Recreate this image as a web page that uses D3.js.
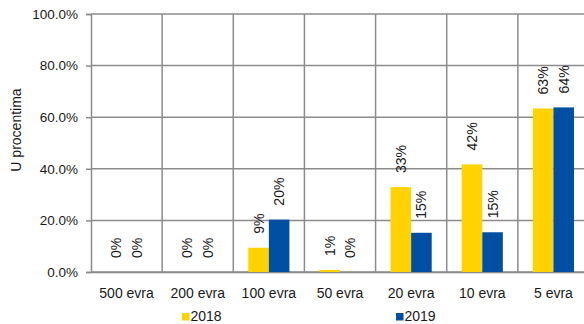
<!DOCTYPE html>
<html>
<head>
<meta charset="utf-8">
<script src="https://cdn.jsdelivr.net/npm/d3@7"></script>
<style>
  html, body { margin: 0; padding: 0; background: #fff; }
  svg { display: block; font-family: "Liberation Sans", Arial, sans-serif; }
</style>
</head>
<body>
<svg id="chart" width="584" height="324"></svg>
<script>
const categories = ["500 evra", "200 evra", "100 evra", "50 evra", "20 evra", "10 evra", "5 evra"];
const seriesNames = ["2018", "2019"];
const values2018 = [0.0, 0.0, 9.4, 0.8, 32.9, 41.7, 63.4];
const values2019 = [0.0, 0.0, 20.3, 0.0, 15.2, 15.4, 63.8];
const yTicks = [0, 20, 40, 60, 80, 100];
const colors = ["#FFD200", "#004FA2"];

const svg = d3.select("#chart");
const margin = { left: 91, top: 14, bottom: 52 };
const plotW = 498; // extends past right edge as in reference
const plotH = 324 - margin.top - margin.bottom;

const x = d3.scaleBand().domain(categories).range([margin.left, margin.left + plotW]).padding(0);
const y = d3.scaleLinear().domain([0, 100]).range([margin.top + plotH, margin.top]);
const xs = d3.scaleBand().domain(seriesNames).range([0, x.bandwidth()]).paddingInner(0).paddingOuter(0.73);

const gridColor = "#8c8c8c";

// horizontal grid
svg.append("g").selectAll("line").data(yTicks).join("line")
  .attr("x1", margin.left).attr("x2", margin.left + plotW)
  .attr("y1", d => y(d)).attr("y2", d => y(d))
  .attr("stroke", gridColor).attr("stroke-width", 1.5);

// vertical grid (category separators)
svg.append("g").selectAll("line").data(categories.slice(1)).join("line")
  .attr("x1", d => x(d)).attr("x2", d => x(d))
  .attr("y1", y(100)).attr("y2", y(0))
  .attr("stroke", gridColor).attr("stroke-width", 1.5);

// y axis
const yAxis = d3.axisLeft(y).tickValues(yTicks).tickSize(5).tickPadding(8)
  .tickFormat(d => d3.format(".1f")(d) + "%");
const gy = svg.append("g").attr("transform", `translate(${margin.left},0)`).call(yAxis);
gy.select(".domain").attr("stroke", gridColor).attr("stroke-width", 1.5);
gy.selectAll(".tick line").attr("stroke", gridColor).attr("stroke-width", 1.5);
gy.selectAll(".tick text").attr("font-size", "13.5px").attr("fill", "#1a1a1a")
  .attr("font-family", "Liberation Sans, Arial, sans-serif");

// x axis
const xAxis = d3.axisBottom(x).tickSize(0).tickPadding(16);
const gx = svg.append("g").attr("transform", `translate(0,${y(0)})`).call(xAxis);
gx.select(".domain").attr("stroke", gridColor).attr("stroke-width", 1.5);
gx.selectAll(".tick text").attr("font-size", "14px").attr("fill", "#1a1a1a")
  .attr("font-family", "Liberation Sans, Arial, sans-serif");

// bars
const data = [];
categories.forEach((c, i) => {
  data.push({ cat: c, s: seriesNames[0], v: values2018[i], color: colors[0] });
  data.push({ cat: c, s: seriesNames[1], v: values2019[i], color: colors[1] });
});

svg.append("g").selectAll("rect").data(data).join("rect")
  .attr("x", d => x(d.cat) + xs(d.s))
  .attr("width", xs.bandwidth())
  .attr("y", d => y(d.v))
  .attr("height", d => y(0) - y(d.v))
  .attr("fill", d => d.color);

// value labels (rotated)
svg.append("g").selectAll("text").data(data).join("text")
  .attr("transform", d => {
    const cx = x(d.cat) + xs(d.s) + xs.bandwidth() / 2 + 5;
    const cy = y(d.v) - 14;
    return `translate(${cx},${cy}) rotate(-90)`;
  })
  .attr("text-anchor", "start")
  .attr("font-size", "14px")
  .attr("fill", "#1a1a1a")
  .text(d => d3.format(".0f")(d.v) + "%");

// y axis title
svg.append("text")
  .attr("transform", `translate(21,130) rotate(-90)`)
  .attr("text-anchor", "middle")
  .attr("font-size", "14px")
  .attr("fill", "#1a1a1a")
  .text("U procentima");

// legend
const legendX = [182, 396];
const lg = svg.append("g").selectAll("g").data(seriesNames).join("g")
  .attr("transform", (d, i) => `translate(${legendX[i]},313)`);
lg.append("rect").attr("width", 7.5).attr("height", 7.5).attr("fill", (d, i) => colors[i]);
lg.append("text").attr("x", 8.5).attr("y", 8).attr("font-size", "14px").attr("fill", "#1a1a1a").text(d => d);
</script>
</body>
</html>
